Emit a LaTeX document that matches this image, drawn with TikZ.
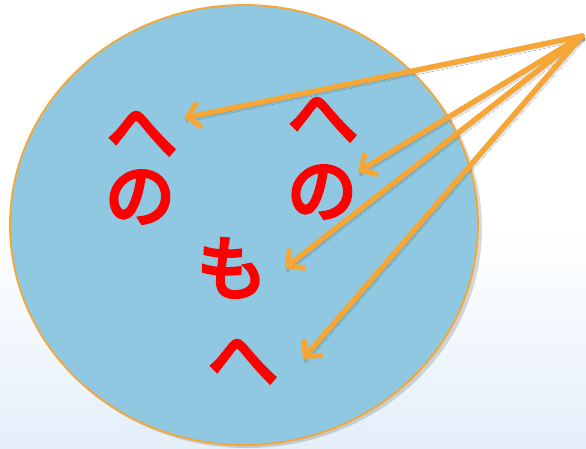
\documentclass[tikz,border=0pt]{standalone}
\usepackage{fontspec}
\newfontfamily\jp{Noto Sans CJK JP}[FakeBold=5]
\usetikzlibrary{arrows.meta,shadows.blur}
\definecolor{skyfill}{RGB}{143,200,224}
\definecolor{orangeline}{RGB}{246,166,52}
\definecolor{paleblue}{RGB}{228,239,250}
\definecolor{kanared}{RGB}{255,0,0}
\tikzset{
  kana/.style={inner sep=0pt, text=kanared, font=\jp\fontsize{70}{70}\selectfont},
  pointer/.style={draw=orangeline, line width=5.3pt, line cap=round,
    -{Straight Barb[length=12pt,width=25pt,line width=5.3pt]},
    blur shadow={shadow xshift=2pt, shadow yshift=-2.5pt, shadow opacity=30, shadow blur steps=5}},
}
\begin{document}
\begin{tikzpicture}[x=1pt,y=-1pt]
\useasboundingbox (0,0) rectangle (586,449);
\fill[white] (0,0) rectangle (586,449);
\shade[top color=white, bottom color=paleblue] (0,230) rectangle (586,449);
% disc
\fill[black, opacity=0.15] (247,228) ellipse [x radius=235, y radius=220];
\fill[skyfill, draw=orangeline, line width=1.8pt] (244,225) ellipse [x radius=234, y radius=220];
% characters
\node[kana] (he1) at (142,134) {へ};
\node[kana] (no1) at (140,197) {の};
\node[kana] (he2) at (323,120) {へ};
\node[kana] (no2) at (322,192) {の};
\node[kana] (mo)  at (232,268) {も};
\node[kana] (he3) at (243,362) {へ};
% arrows
\coordinate (apex) at (582,36);
\coordinate (t1) at (184,118);
\coordinate (t2) at (358,172);
\coordinate (t3) at (285,268);
\coordinate (t4) at (303,359);
\draw[pointer] (apex) -- (t1);
\draw[pointer] (apex) -- (t2);
\draw[pointer] (apex) -- (t3);
\draw[pointer] (apex) -- (t4);
\end{tikzpicture}
\end{document}
